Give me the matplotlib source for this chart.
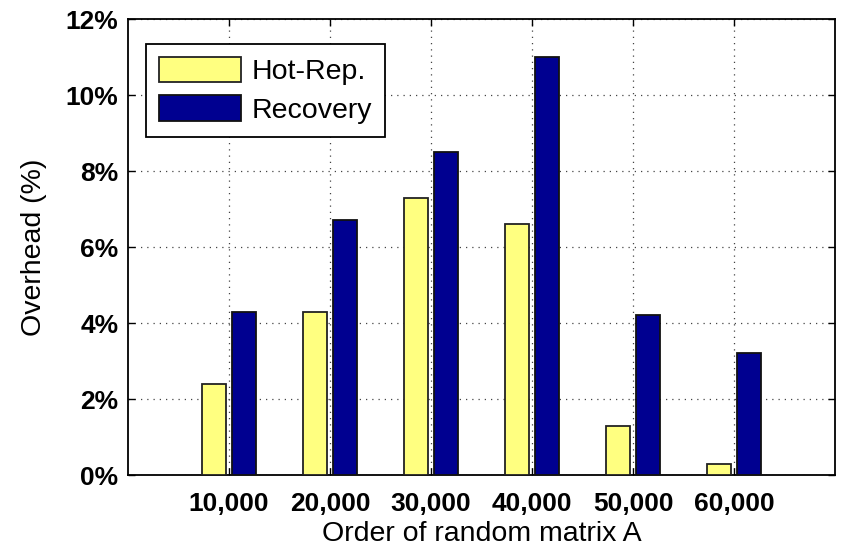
import numpy as np
import matplotlib.pyplot as plt

categories = ['10,000', '20,000', '30,000', '40,000', '50,000', '60,000']
hot_rep = [2.4, 4.3, 7.3, 6.6, 1.3, 0.3]
recovery = [4.3, 6.7, 8.5, 11.0, 4.2, 3.2]
yticks = [0, 2, 4, 6, 8, 10, 12]

plt.rcParams['font.family'] = ['Liberation Sans', 'DejaVu Sans']

fig = plt.figure(figsize=(8.42, 5.48), dpi=100)
ax = fig.add_axes([0.152, 0.1332, 0.8397, 0.8321])

x = np.arange(1, len(categories) + 1)
w = 0.235
off = 0.145
ax.bar(x - off, hot_rep, w, color='#ffff80', edgecolor='#222222', linewidth=1.3,
       label='Hot-Rep.', zorder=3)
ax.bar(x + off, recovery, w, color='#000090', edgecolor='#111111', linewidth=1.3,
       label='Recovery', zorder=3)

ax.set_xlim(0, 7)
ax.set_ylim(0, 12)
ax.set_xticks(x)
ax.set_xticklabels(categories, fontsize=19, fontweight='bold')
ax.set_yticks(yticks)
ax.set_yticklabels(['%d%%' % v for v in yticks], fontsize=19, fontweight='bold')
ax.tick_params(direction='in', top=True, right=True, length=5, width=1)
ax.tick_params(axis='x', pad=12)
ax.tick_params(axis='y', pad=7)

ax.grid(True, linestyle=(0, (1, 4)), color='#444444', linewidth=0.9, zorder=0)
ax.set_axisbelow(True)

for s in ax.spines.values():
    s.set_linewidth(1.3)

ax.set_xlabel('Order of random matrix A', fontsize=20.5, labelpad=4)
ax.set_ylabel('Overhead (%)', fontsize=20.5, labelpad=13)

leg = ax.legend(loc='upper left', bbox_to_anchor=(0.0255, 0.945), borderaxespad=0,
                fontsize=20.5, fancybox=False, framealpha=1, edgecolor='black',
                handlelength=2.9, handleheight=1.0, handletextpad=0.35,
                labelspacing=0.35, borderpad=0.45)
leg.get_frame().set_linewidth(1.3)

fig.savefig('out.png', dpi=100)
